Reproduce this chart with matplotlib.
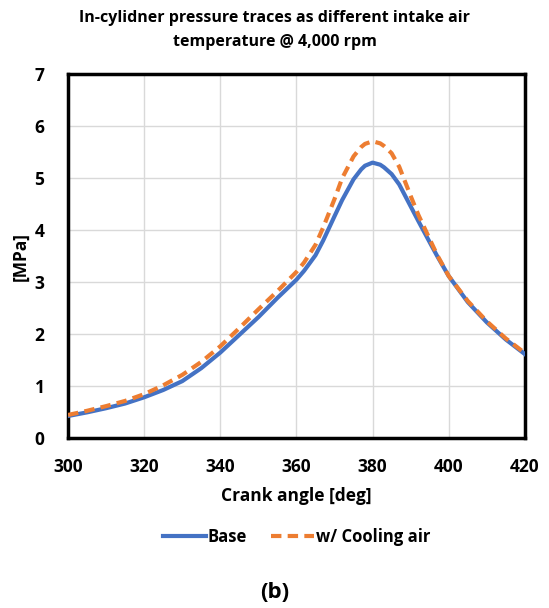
import matplotlib
matplotlib.use('Agg')
import matplotlib.pyplot as plt

plt.rcParams['font.family'] = ['Open Sans', 'DejaVu Sans']
plt.rcParams['font.weight'] = 'bold'

# crank angle [deg]
angle = [300, 305, 310, 315, 320, 325, 330, 335, 340, 345, 350, 355, 360, 362, 365, 367,
         370, 372, 375, 377, 378, 380, 382, 383, 385, 387, 390, 392, 395, 397, 400,
         405, 410, 415, 420]
# pressure [MPa]
base = [0.43, 0.50, 0.58, 0.67, 0.79, 0.93, 1.10, 1.35, 1.65, 1.99, 2.33, 2.70, 3.05, 3.22, 3.52, 3.80,
        4.27, 4.58, 4.98, 5.17, 5.24, 5.30, 5.26, 5.21, 5.08, 4.88, 4.46, 4.18, 3.77, 3.50, 3.12,
        2.62, 2.23, 1.90, 1.62]
cooling = [0.45, 0.53, 0.62, 0.72, 0.85, 1.02, 1.22, 1.47, 1.77, 2.12, 2.48, 2.83, 3.20, 3.38, 3.72, 4.05,
           4.60, 5.00, 5.42, 5.60, 5.66, 5.71, 5.67, 5.62, 5.48, 5.22, 4.66, 4.30, 3.83, 3.52, 3.12,
           2.64, 2.25, 1.92, 1.64]

fig = plt.figure(figsize=(5.49, 6.08), dpi=100)
ax = fig.add_axes([0.124, 0.279, 0.832, 0.599])

ax.plot(angle, base, color='#4472C4', lw=3, label='Base', zorder=3)
ax.plot(angle, cooling, color='#ED7D31', lw=3, ls=(0, (2.5, 1.5)), label='w/ Cooling air', zorder=4)

ax.set_xlim(300, 420)
ax.set_ylim(0, 7)
ax.set_xticks(range(300, 421, 20))
ax.set_yticks(range(0, 8))
ax.grid(color='#d9d9d9', lw=1)
ax.set_axisbelow(True)
ax.tick_params(length=0, labelsize=12.5)
ax.tick_params(axis='x', pad=14)
ax.tick_params(axis='y', pad=17)
for lab in ax.get_xticklabels() + ax.get_yticklabels():
    lab.set_fontweight('bold')
for s in ax.spines.values():
    s.set_linewidth(2.5)
    s.set_color('black')

ax.set_xlabel('Crank angle [deg]', fontsize=12.5, fontweight='bold', labelpad=8)
ax.set_ylabel('[MPa]', fontsize=12.5, fontweight='bold')
ax.yaxis.set_label_coords(-0.085, 0.5)

fig.text(0.5, 0.951, 'In-cylidner pressure traces as different intake air\ntemperature @ 4,000 rpm',
         ha='center', va='center', fontsize=11.5, fontweight='bold', linespacing=1.65)

ax.legend(loc='center', bbox_to_anchor=(0.5, -0.27), ncol=2, frameon=False,
          fontsize=12, handlelength=2.6, handletextpad=0.1, columnspacing=1.4)

fig.text(0.5, 0.026, '(b)', ha='center', va='center', fontsize=16, fontweight='bold')

fig.savefig('out.png', dpi=100)
